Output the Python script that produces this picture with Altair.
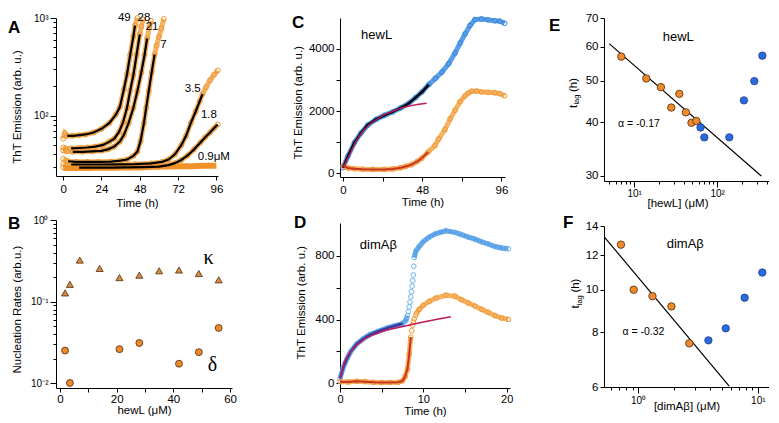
import altair as alt
import pandas as pd

FONT = "Liberation Sans"

# ---------------- Panel A : ThT kinetics, hewL (log scale) ----------------
A49_t = [0, 1, 2.5, 6, 10, 14, 19, 24, 29, 33, 35.5, 38, 40, 42, 44, 45, 46.5]
A49_v = [58, 66, 62, 62, 63, 64, 67, 73, 84, 102, 122, 185, 265, 420, 650, 835, 1000]
A28_t = [0, 1.5, 5, 10, 15, 20, 25, 29, 32, 35, 37.5, 40, 42, 44, 46, 48, 49, 50]
A28_v = [47, 46, 46, 46.5, 47, 48, 50, 54, 58, 68, 85, 120, 180, 260, 420, 680, 820, 970]
A21_t = [0, 2, 6, 12, 18, 24, 28, 32, 35.5, 38, 41, 44, 46.5, 49, 51, 52.6, 54, 55]
A21_v = [44, 43, 42.5, 42.5, 43, 43.5, 45, 48, 54, 63, 84, 120, 178, 280, 420, 618, 800, 935]
A7_t = [0, 3, 8, 15, 22, 30, 36, 40, 44, 46.5, 48.5, 50.6, 52, 53.6, 55.5, 57.3, 58.5, 60, 61.5, 63]
A7_v = [36, 34, 33.5, 33.5, 33.5, 33.7, 34.5, 35.4, 38.5, 42.7, 55, 84, 120, 178, 280, 424, 520, 640, 780, 980]
A35_t = [0, 5, 15, 25, 35, 45, 55, 62, 66, 70, 74, 77, 80, 83, 85.5, 87.3, 89.5, 92, 94.5, 96.8]
A35_v = [32, 31.5, 31.5, 31.5, 31.6, 31.8, 32.3, 33.5, 35.4, 40, 49.6, 62, 84, 110, 140, 166, 195, 230, 262, 290]
A18_t = [0, 10, 20, 30, 40, 50, 60, 66, 70, 74, 78, 82, 86, 89, 92, 94.5, 96.8]
A18_v = [29.5, 29.3, 29.3, 29.3, 29.4, 29.6, 30, 31, 32.5, 35, 39, 45, 53, 60, 67, 74, 81]
A09_t = [0, 8, 16, 24, 32, 40, 48, 56, 64, 72, 80, 88, 96]
A09_v = [29, 29.2, 29, 29.3, 29.2, 29.5, 29.4, 29.8, 30, 30.2, 30.3, 30.5, 30.6]
A_names = ["49", "28", "21", "7", "3.5", "1.8"]
A_fit_start = 2.5
A_fit_end = [45, 48, 52.6, 57.3, 87.3, 96.8]
A_lab_text = ["49", "28", "21", "7", "3.5", "1.8", "0.9μM"]
A_lab_t = [38.3, 50.6, 55.7, 62.8, 81.2, 91.3, 94.4]
A_lab_v = [1000, 1000, 803, 530, 185, 102, 37.3]

# ---------------- Panel B : nucleation rates ----------------
B_conc = [1.8, 3.5, 7, 14, 21, 28, 35, 42, 49, 56]
B_kappa = [0.128, 0.163, 0.323, 0.255, 0.197, 0.211, 0.239, 0.244, 0.221, 0.185]
B_dconc = [1.8, 3.5, 21, 28, 42, 49, 56]
B_delta = [0.0252, 0.0101, 0.0262, 0.0312, 0.0174, 0.0241, 0.0477]
B_lab_text = ["κ", "δ"]
B_lab_x = [52.4, 53.8]
B_lab_y = [0.347, 0.017]

# ---------------- Panel C : hewL kinetics ----------------
C_blue_t = [0, 3, 7, 11, 15, 20, 25, 30, 35, 40, 44, 48, 52, 56, 60, 64, 68, 71, 74, 77, 80, 84, 88, 92, 95, 98]
C_blue_v = [180, 550, 990, 1300, 1550, 1730, 1860, 1970, 2100, 2250, 2430, 2620, 2850, 3050, 3250, 3520,
            3870, 4180, 4480, 4750, 4940, 4960, 4930, 4900, 4890, 4820]
C_orng_t = [0, 3, 7, 12, 18, 25, 30, 35, 38, 41.6, 45, 47.7, 51.7, 55.8, 58, 61.8, 65, 67.9, 71, 73.9,
            76, 78, 81, 84, 88, 92, 95, 98]
C_orng_v = [240, 170, 145, 130, 125, 123, 135, 175, 220, 277, 380, 482, 686, 892, 1100, 1406, 1750, 2021,
            2300, 2483, 2580, 2637, 2640, 2615, 2600, 2585, 2560, 2490]
C_fit_t = [0.5, 4, 8, 12, 16, 20, 25, 30, 35, 40, 45, 50.7]
C_fit_v = [230, 600, 1050, 1350, 1570, 1720, 1880, 1990, 2090, 2160, 2210, 2250]
C_fit_end = 52

# ---------------- Panel D : dimAbeta kinetics ----------------
D_blue_t = [0, 0.4, 0.8, 1.3, 2, 2.8, 3.6, 4.5, 5.6, 6.5, 7.5, 7.9, 8.1, 8.2, 8.3, 8.4, 8.5, 8.58, 8.65,
            8.72, 8.8, 8.85, 8.9, 9.1, 9.5, 10, 10.7, 11.5, 12.7, 13.8, 14.5, 15.4, 16.2, 17, 17.8, 18.6,
            19.4, 20.2]
D_blue_v = [30, 100, 150, 200, 247, 280, 306, 325, 346, 360, 375, 395, 425, 450, 480, 510, 543, 575, 610,
            645, 681, 735, 790, 830, 859, 890, 918, 940, 958, 948, 935, 918, 905, 889, 875, 859, 850, 845]
D_orng_t = [0, 1, 2, 3, 4, 5, 6, 7, 7.5, 7.8, 8.1, 8.3, 8.5, 8.6, 8.7, 8.8, 8.9, 9.05, 9.2, 9.5, 10,
            10.7, 11.5, 12.7, 13.8, 14.6, 15.4, 16.2, 17, 17.8, 18.6, 19.4, 20.2]
D_orng_v = [10, 8, 12, 10, 6, 5, 5, 6, 15, 40, 89, 180, 290, 330, 365, 385, 405, 425, 440, 464, 490,
            514, 535, 553, 547, 525, 504, 485, 464, 445, 425, 410, 401]
D_fit_t = [0, 0.5, 1, 2, 3, 4, 5.5, 7, 8.5, 10, 11.5, 13.3]
D_fit_v = [30, 130, 180, 240, 280, 305, 333, 350, 368, 385, 400, 418]
D_blue_fit_end = 7.5
D_orng_fit_end = 8.5
D_blue_jump = (8.1, 8.9)   # fast rise: only open circles in the reference
D_orng_jump = (8.5, 9.2)

# ---------------- Panel E : lag time vs [hewL] ----------------
E_o_x = [7, 14, 21, 28, 35, 42, 49, 56]
E_o_y = [56.9, 50.6, 48.3, 43.3, 46.6, 42.2, 39.9, 40.3]
E_b_x = [63, 70, 140, 210, 280, 350]
E_b_y = [38.9, 36.9, 36.9, 45.0, 49.9, 57.2]
E_fit_x = [5, 340]
E_fit_y = [61, 30]

# ---------------- Panel F : lag time vs [dimAbeta] ----------------
F_o_x = [0.72, 0.92, 1.32, 1.90, 2.68]
F_o_y = [12.69, 10.01, 9.68, 9.17, 7.55]
F_b_x = [3.87, 5.40, 7.76, 10.9]
F_b_y = [7.67, 8.17, 9.60, 10.96]
F_fit_x = [0.524, 5.77]
F_fit_y = [13.21, 6.03]

# ======================= helpers =======================
def logvals(lo, hi, exps):
    out = []
    for e in exps:
        for m in range(1, 10):
            v = round(m * 10.0 ** e, 6)
            if lo - 1e-9 <= v <= hi + 1e-9:
                out.append(v)
    return out


def axis(values, title, label_expr=None, major_test=None, major=6, minor=3, tick=4,
         lsize=11, title_x=None, title_y=None, lpad=2, fmt=None):
    kw = dict(values=values, title=title, grid=False, domainColor="#000", tickColor="#000",
              labelColor="#000", titleColor="#000", labelFont=FONT, titleFont=FONT,
              labelFontSize=lsize, titleFontSize=11.5, titleFontWeight="normal",
              labelPadding=lpad, labelOverlap=False, labelFlush=False, titleBaseline="middle",
              domainWidth=1, tickWidth=1)
    if label_expr:
        kw["labelExpr"] = label_expr
    if major_test:
        kw["tickSize"] = {"condition": {"test": major_test, "value": major}, "value": minor}
    else:
        kw["tickSize"] = tick
    if title_x is not None:
        kw["titleX"] = title_x
    if title_y is not None:
        kw["titleY"] = title_y
    if fmt:
        kw["format"] = fmt
    return alt.Axis(**kw)


ONE = pd.DataFrame({"k": [0]})


def letter(ch, x, y):
    return alt.Chart(ONE).mark_text(text=ch, font=FONT, fontSize=17, fontWeight="bold",
                                    align="left", baseline="alphabetic", color="black").encode(
        x=alt.value(x), y=alt.value(y))


def tlag(xc, yc):
    base = alt.Chart(ONE)
    y0 = yc + 15
    t1 = base.mark_text(text="t", font=FONT, fontSize=11.5, angle=270, align="left",
                        baseline="middle", color="black").encode(x=alt.value(xc), y=alt.value(y0))
    t2 = base.mark_text(text="lag", font=FONT, fontSize=7.5, angle=270, align="left",
                        baseline="middle", color="black").encode(x=alt.value(xc + 3.5), y=alt.value(y0 - 3.4))
    t3 = base.mark_text(text="(h)", font=FONT, fontSize=11.5, angle=270, align="left",
                        baseline="middle", color="black").encode(x=alt.value(xc), y=alt.value(y0 - 16))
    return [t1, t2, t3]


def segment(df, jump):
    lo, hi = jump
    d = df.copy()
    d["seg"] = ["a" if t <= lo else ("b" if t >= hi else "m") for t in d.x]
    return d[d.seg != "m"]


ORANGE_BAND = "#F6B364"
ORANGE_PT = "#EE9632"
BLUE_BAND = "#5A9FE8"
BLUE_PT = "#3584DE"

# ======================= Panel A =======================
wA, hA = 162, 158
frames, fits = [], []
for name, ts, vs, end in zip(A_names, [A49_t, A28_t, A21_t, A7_t, A35_t, A18_t],
                             [A49_v, A28_v, A21_v, A7_v, A35_v, A18_v], A_fit_end):
    d = pd.DataFrame({"x": ts, "y": vs, "s": name})
    frames.append(d)
    fits.append(d[(d.x >= A_fit_start) & (d.x <= end)])
dfA = pd.concat(frames, ignore_index=True)
dfA_fit = pd.concat(fits, ignore_index=True)
dfA09 = pd.DataFrame({"x": A09_t, "y": A09_v, "s": "0.9"})
dfA_lab = pd.DataFrame({"x": A_lab_t, "y": A_lab_v, "txt": A_lab_text})

xA = alt.X("x:Q", scale=alt.Scale(domain=[-4.5, 97], nice=False, zero=False),
           axis=axis([0, 24, 48, 72, 96], "Time (h)", title_y=27, lpad=3, lsize=11.5))
yA = alt.Y("y:Q", scale=alt.Scale(type="log", domain=[24, 1000], nice=False),
           axis=axis(logvals(30, 1000, [1, 2, 3]), "ThT Emission (arb. u.)",
                     label_expr="datum.value == 100 ? '10²' : (datum.value == 1000 ? '10³' : '')",
                     major_test="datum.value == 100 || datum.value == 1000", major=6, minor=3,
                     lsize=10, title_x=-39, title_y=0.56 * hA))

A = alt.layer(
    alt.Chart(dfA).mark_line(strokeWidth=5, color=ORANGE_BAND).encode(x=xA, y=yA, detail="s:N"),
    alt.Chart(dfA09).mark_line(strokeWidth=6, color="#F39228").encode(x=xA, y=yA),
    alt.Chart(dfA).mark_point(filled=False, size=24, strokeWidth=1, color=ORANGE_PT, opacity=1).encode(x=xA, y=yA),
    alt.Chart(dfA_fit).mark_line(strokeWidth=2.2, color="black").encode(x=xA, y=yA, detail="s:N"),
    alt.Chart(dfA_lab).mark_text(font=FONT, fontSize=11.5, color="black").encode(x=xA, y=yA, text="txt:N"),
    letter("A", -48, 15),
).properties(width=wA, height=hA)

# ======================= Panel B =======================
wB, hB = 176, 168
dfK = pd.DataFrame({"x": B_conc, "y": B_kappa})
dfD = pd.DataFrame({"x": B_dconc, "y": B_delta})
dfB_lab = pd.DataFrame({"x": B_lab_x, "y": B_lab_y, "txt": B_lab_text})
xB = alt.X("x:Q", scale=alt.Scale(domain=[-1.4, 60.7], nice=False, zero=False),
           axis=axis([0, 10, 20, 30, 40, 50, 60], "hewL (μM)",
                     label_expr="datum.value % 20 == 0 ? datum.label : ''", title_y=22, lpad=1, lsize=11.5))
yB = alt.Y("y:Q", scale=alt.Scale(type="log", domain=[0.00877, 1], nice=False),
           axis=axis(logvals(0.01, 1, [-2, -1, 0]), "Nucleation Rates (arb.u.)",
                     label_expr="abs(datum.value-0.01)<1e-9 ? '10⁻²' : (abs(datum.value-0.1)<1e-9 ? '10⁻¹' : (abs(datum.value-1)<1e-9 ? '10⁰' : ''))",
                     major_test="abs(datum.value-0.01)<1e-9 || abs(datum.value-0.1)<1e-9 || abs(datum.value-1)<1e-9",
                     major=6, minor=3, lsize=10, title_x=-38.7, title_y=0.53 * hB))
B = alt.layer(
    alt.Chart(dfK).mark_point(shape="triangle-up", filled=True, size=50, fill="#D88B3E",
                              stroke="#4A2E12", strokeWidth=0.8, opacity=1).encode(x=xB, y=yB),
    alt.Chart(dfD).mark_point(shape="circle", filled=True, size=48, fill="#EE8A2E",
                              stroke="#4A2A10", strokeWidth=0.8, opacity=1).encode(x=xB, y=yB),
    alt.Chart(dfB_lab).mark_text(font="Liberation Serif", fontSize=20, color="black").encode(x=xB, y=yB, text="txt:N"),
    letter("B", -48, 9),
).properties(width=wB, height=hB)

# ======================= Panel C =======================
wC, hC = 165, 159
dfCb = pd.DataFrame({"x": C_blue_t, "y": C_blue_v})
dfCo = pd.DataFrame({"x": C_orng_t, "y": C_orng_v})
dfCf = pd.DataFrame({"x": C_fit_t, "y": C_fit_v})
dfC_lab = pd.DataFrame({"x": [20.4], "y": [4430], "txt": ["hewL"]})
xC = alt.X("x:Q", scale=alt.Scale(domain=[-1.8, 98.2], nice=False, zero=False),
           axis=axis([0, 24, 48, 72, 96], "Time (h)",
                     label_expr="datum.value % 48 == 0 ? datum.label : ''", title_y=25, lpad=3, lsize=11.5))
yC = alt.Y("y:Q", scale=alt.Scale(domain=[-120, 4990], nice=False, zero=False),
           axis=axis([0, 1000, 2000, 3000, 4000], "ThT Emission (arb. u.)", fmt="d",
                     label_expr="datum.value % 2000 == 0 ? datum.label : ''", lsize=11.5,
                     title_x=-41.7, title_y=0.53 * hC))
C = alt.layer(
    alt.Chart(dfCb).mark_line(strokeWidth=5, color=BLUE_BAND).encode(x=xC, y=yC),
    alt.Chart(dfCb).mark_point(filled=False, size=22, strokeWidth=1, color=BLUE_PT, opacity=1).encode(x=xC, y=yC),
    alt.Chart(dfCo).mark_line(strokeWidth=5, color=ORANGE_BAND).encode(x=xC, y=yC),
    alt.Chart(dfCo).mark_point(filled=False, size=22, strokeWidth=1, color=ORANGE_PT, opacity=1).encode(x=xC, y=yC),
    alt.Chart(dfCb[dfCb.x <= C_fit_end]).mark_line(strokeWidth=2.5, color="black").encode(x=xC, y=yC),
    alt.Chart(dfCo[dfCo.x <= C_fit_end]).mark_line(strokeWidth=2, color="#C8321E").encode(x=xC, y=yC),
    alt.Chart(dfCf).mark_line(strokeWidth=1.3, color="#C2185B").encode(x=xC, y=yC),
    alt.Chart(dfC_lab).mark_text(font=FONT, fontSize=13, color="black").encode(x=xC, y=yC, text="txt:N"),
    letter("C", -48, 10),
).properties(width=wC, height=hC)

# ======================= Panel D =======================
wD, hD = 170, 165
dfDb = pd.DataFrame({"x": D_blue_t, "y": D_blue_v})
dfDo = pd.DataFrame({"x": D_orng_t, "y": D_orng_v})
dfDf = pd.DataFrame({"x": D_fit_t, "y": D_fit_v})
dfD_lab = pd.DataFrame({"x": [4.6], "y": [871], "txt": ["dimAβ"]})
xD = alt.X("x:Q", scale=alt.Scale(domain=[0, 20.4], nice=False, zero=False),
           axis=axis([0, 5, 10, 15, 20], "Time (h)",
                     label_expr="datum.value % 10 == 0 ? datum.label : ''", title_y=23, lpad=1, lsize=11))
yD = alt.Y("y:Q", scale=alt.Scale(domain=[-30, 1007], nice=False, zero=False),
           axis=axis([0, 200, 400, 600, 800], "ThT Emission (arb. u.)", fmt="d",
                     label_expr="datum.value % 400 == 0 ? datum.label : ''", lsize=11.5,
                     title_x=-38.7, title_y=0.48 * hD))
D = alt.layer(
    alt.Chart(segment(dfDb, D_blue_jump)).mark_line(strokeWidth=5, color=BLUE_BAND).encode(x=xD, y=yD, detail="seg:N"),
    alt.Chart(dfDb).mark_point(filled=False, size=22, strokeWidth=1, color="#6DB4EA", opacity=1).encode(x=xD, y=yD),
    alt.Chart(segment(dfDo, D_orng_jump)).mark_line(strokeWidth=5, color=ORANGE_BAND).encode(x=xD, y=yD, detail="seg:N"),
    alt.Chart(dfDo).mark_point(filled=False, size=22, strokeWidth=1, color=ORANGE_PT, opacity=1).encode(x=xD, y=yD),
    alt.Chart(dfDb[dfDb.x <= D_blue_fit_end]).mark_line(strokeWidth=2.5, color="#3B3B9A").encode(x=xD, y=yD),
    alt.Chart(dfDo[dfDo.x <= D_orng_fit_end]).mark_line(strokeWidth=2, color="#C8321E").encode(x=xD, y=yD),
    alt.Chart(dfDf).mark_line(strokeWidth=1.5, color="#C2185B").encode(x=xD, y=yD),
    alt.Chart(dfD_lab).mark_text(font=FONT, fontSize=13, color="black").encode(x=xD, y=yD, text="txt:N"),
    letter("D", -46, 5),
).properties(width=wD, height=hD)

# ======================= Panel E =======================
wE, hE = 165, 163
dfEo = pd.DataFrame({"x": E_o_x, "y": E_o_y})
dfEb = pd.DataFrame({"x": E_b_x, "y": E_b_y})
dfEf = pd.DataFrame({"x": E_fit_x, "y": E_fit_y})
dfE_lab = pd.DataFrame({"x": [34], "y": [63.3], "txt": ["hewL"]})
dfE_a = pd.DataFrame({"x": [11.4], "y": [39.6], "txt": ["α = -0.17"]})
xE = alt.X("x:Q", scale=alt.Scale(type="log", domain=[4.33, 421], nice=False),
           axis=axis(logvals(5, 400, [0, 1, 2]), "[hewL] (μM)",
                     label_expr="datum.value == 10 ? '10¹' : (datum.value == 100 ? '10²' : '')",
                     major_test="datum.value == 10 || datum.value == 100", major=6, minor=3,
                     lsize=10, title_y=22, title_x=wE / 2 - 9, lpad=1))
yE = alt.Y("y:Q", scale=alt.Scale(type="log", domain=[29.2, 70], nice=False),
           axis=axis([30, 40, 50, 60, 70], "", lsize=11.5))
E = alt.layer(
    alt.Chart(dfEf).mark_line(strokeWidth=1.2, color="black").encode(x=xE, y=yE),
    alt.Chart(dfEo).mark_point(shape="circle", filled=True, size=55, fill="#F08A2C", stroke="#6B4420",
                               strokeWidth=1, opacity=1).encode(x=xE, y=yE),
    alt.Chart(dfEb).mark_point(shape="circle", filled=True, size=55, fill="#2A6ADB", stroke="#1A3F8A",
                               strokeWidth=0.8, opacity=1).encode(x=xE, y=yE),
    alt.Chart(dfE_lab).mark_text(font=FONT, fontSize=13, color="black").encode(x=xE, y=yE, text="txt:N"),
    alt.Chart(dfE_a).mark_text(font=FONT, fontSize=10.5, color="black").encode(x=xE, y=yE, text="txt:N"),
    letter("E", -55, 13),
    *tlag(-30.3, 0.46 * hE),
).properties(width=wE, height=hE)

# ======================= Panel F =======================
wF, hF = 165, 161
dfFo = pd.DataFrame({"x": F_o_x, "y": F_o_y})
dfFb = pd.DataFrame({"x": F_b_x, "y": F_b_y})
dfFf = pd.DataFrame({"x": F_fit_x, "y": F_fit_y})
dfF_lab = pd.DataFrame({"x": [2.48], "y": [12.74], "txt": ["dimAβ"]})
dfF_a = pd.DataFrame({"x": [1.11], "y": [8.01], "txt": ["α = -0.32"]})
xF = alt.X("x:Q", scale=alt.Scale(type="log", domain=[0.52, 12.4], nice=False),
           axis=axis(logvals(0.6, 10, [-1, 0, 1]), "[dimAβ] (μM)",
                     label_expr="abs(datum.value-1)<1e-9 ? '10⁰' : (abs(datum.value-10)<1e-9 ? '10¹' : '')",
                     major_test="abs(datum.value-1)<1e-9 || abs(datum.value-10)<1e-9", major=6, minor=3,
                     lsize=10, title_y=19, lpad=2))
yF = alt.Y("y:Q", scale=alt.Scale(type="log", domain=[6, 14], nice=False),
           axis=axis([6, 8, 10, 12, 14], "", lsize=11.5))
F = alt.layer(
    alt.Chart(dfFf).mark_line(strokeWidth=1.2, color="black").encode(x=xF, y=yF),
    alt.Chart(dfFo).mark_point(shape="circle", filled=True, size=55, fill="#F08A2C", stroke="#6B4420",
                               strokeWidth=1, opacity=1).encode(x=xF, y=yF),
    alt.Chart(dfFb).mark_point(shape="circle", filled=True, size=55, fill="#2A6ADB", stroke="#1A3F8A",
                               strokeWidth=0.8, opacity=1).encode(x=xF, y=yF),
    alt.Chart(dfF_lab).mark_text(font=FONT, fontSize=13, color="black").encode(x=xF, y=yF, text="txt:N"),
    alt.Chart(dfF_a).mark_text(font=FONT, fontSize=10.5, color="black").encode(x=xF, y=yF, text="txt:N"),
    letter("F", -41, 2),
    *tlag(-28, 0.42 * hF),
).properties(width=wF, height=hF)

# ======================= layout =======================
# (with flush bounds a nested concat counts as zero width, so spacing = offset between plot origins)
col1 = alt.vconcat(A, B, spacing=44, bounds="flush")
col2 = alt.vconcat(C, D, spacing=46, bounds="flush")
col3 = alt.vconcat(E, F, spacing=45, bounds="flush")
right = alt.hconcat(col2, col3, spacing=264, bounds="flush")
chart = alt.hconcat(col1, right, spacing=284, bounds="flush").properties(
    padding=0, background="white"
).configure_view(stroke=None)

chart.save("out.html", embed_options={"renderer": "svg", "actions": False})
